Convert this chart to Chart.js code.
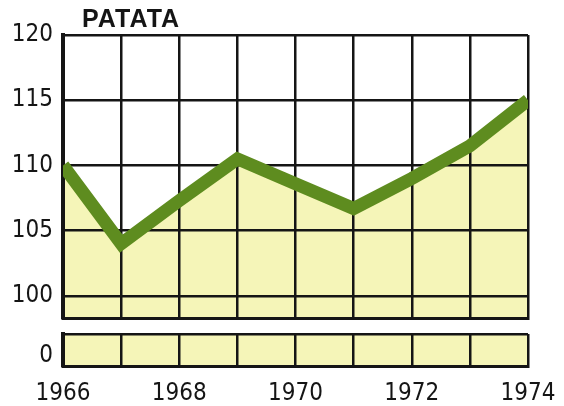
<!DOCTYPE html>
<html>
<head>
<meta charset="utf-8">
<script src="https://cdn.jsdelivr.net/npm/chart.js@4.4.1/dist/chart.umd.min.js"></script>
<style>
  body { margin: 0; background: #fff; }
  #wrap { position: relative; width: 564px; height: 406px; }
  canvas { position: absolute; left: 0; }
  #main { top: 0; }
  #zero { top: 320px; }
</style>
</head>
<body>
<div id="wrap">
  <canvas id="main" width="564" height="330"></canvas>
  <canvas id="zero" width="564" height="86"></canvas>
</div>
<script>
// values
const title = 'PATATA';
const years = [1966, 1967, 1968, 1969, 1970, 1971, 1972, 1973, 1974];
const values = [110, 104, 107.3, 110.5, 108.6, 106.7, 109, 111.5, 115];
const yTicksMain = [100, 105, 110, 115, 120];
const yTicksZero = [0];
const xLabelYears = [1966, 1968, 1970, 1972, 1974];

const FONT = "'Liberation Sans Narrow', 'DejaVu Sans Condensed', sans-serif";
const GREEN = '#5e8c1f';
const YELLOW = '#f5f5b8';
const INK = '#151515';

const points = years.map((y, i) => ({ x: y, y: values[i] }));

const titlePlugin = {
    id: 'titleText',
    afterDraw(chart) {
        const ctx = chart.ctx;
        ctx.save();
        ctx.font = "bold 25px 'Liberation Sans', Arial, sans-serif";
        ctx.letterSpacing = '1px';
        ctx.fillStyle = INK;
        ctx.textBaseline = 'alphabetic';
        ctx.fillText(title, 82, 27);
        ctx.restore();
    }
};

// keep label overflow from eating into the plot area
function noPadding(scale) {
    scale.paddingTop = 0;
    scale.paddingBottom = 0;
    scale.paddingLeft = 0;
    scale.paddingRight = 0;
}

function xScale(showLabels) {
    return {
        type: 'linear',
        min: years[0],
        max: years[years.length - 1],
        afterBuildTicks: (scale) => { scale.ticks = years.map(v => ({ value: v })); },
        afterFit: (scale) => { scale.height = showLabels ? 40 : 0; noPadding(scale); },
        ticks: {
            display: showLabels,
            padding: 13,
            color: INK,
            font: { family: FONT, size: 24 },
            maxRotation: 0,
            autoSkip: false,
            callback: (v) => xLabelYears.includes(v) ? String(v) : ''
        },
        grid: { color: INK, lineWidth: 2.5, drawTicks: false },
        border: { display: true, color: INK, width: 3 }
    };
}

function yScale(min, max, ticks, gridColor) {
    return {
        min: min,
        max: max,
        afterBuildTicks: (scale) => { scale.ticks = ticks.map(v => ({ value: v })); },
        afterFit: (scale) => { scale.width = 63; noPadding(scale); },
        ticks: {
            padding: 10,
            color: INK,
            font: { family: FONT, size: 24 },
            callback: (v) => yTicksMain.includes(v) || yTicksZero.includes(v) ? String(v) : ''
        },
        grid: { color: gridColor, lineWidth: 2.5, drawTicks: false },
        border: { display: true, color: INK, width: 4 }
    };
}

const mainChart = new Chart(document.getElementById('main'), {
    type: 'line',
    data: {
        datasets: [{
            data: points,
            borderColor: GREEN,
            backgroundColor: YELLOW,
            borderWidth: 13,
            borderJoinStyle: 'miter',
            fill: 'start',
            pointRadius: 0,
            tension: 0
        }]
    },
    options: {
        responsive: false,
        animation: false,
        devicePixelRatio: 1,
        layout: { padding: { left: 0, top: 35, right: 36, bottom: 12 } },
        scales: {
            x: xScale(false),
            y: yScale(98.3, 120, yTicksMain, INK)
        },
        plugins: {
            legend: { display: false },
            tooltip: { enabled: false },
            filler: { drawTime: 'beforeDraw' }
        }
    },
    plugins: [titlePlugin]
});

// the broken-off strip that carries the zero line
const zeroChart = new Chart(document.getElementById('zero'), {
    type: 'line',
    data: {
        datasets: [{
            data: points,
            borderWidth: 0,
            backgroundColor: YELLOW,
            fill: 'start',
            pointRadius: 0
        }]
    },
    options: {
        responsive: false,
        animation: false,
        devicePixelRatio: 1,
        layout: { padding: { left: 0, top: 14, right: 36, bottom: 0 } },
        scales: {
            x: xScale(true),
            y: yScale(-1, 2.2, yTicksZero.concat([2.2]),
                (c) => c.tick && c.tick.value === 0 ? 'rgba(0,0,0,0)' : INK)
        },
        plugins: {
            legend: { display: false },
            tooltip: { enabled: false },
            filler: { drawTime: 'beforeDraw' }
        }
    }
});
</script>
</body>
</html>
